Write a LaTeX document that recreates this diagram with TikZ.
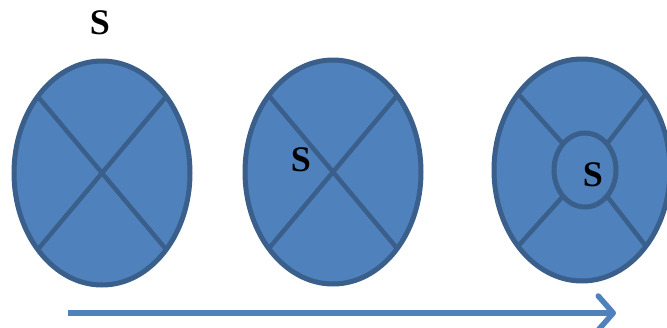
\documentclass[tikz,border=0pt]{standalone}
\usepackage{fontspec}
\setmainfont{Liberation Serif}
\usetikzlibrary{arrows.meta,shapes.geometric}
\definecolor{cellfill}{HTML}{4F81BD}
\definecolor{celledge}{HTML}{3A5F8B}

\begin{document}
\begin{tikzpicture}[x=1pt, y=-1pt,
    cell/.style={draw=celledge, fill=cellfill, ellipse, line width=5pt, inner sep=0pt, outer sep=0pt, minimum width=176pt, minimum height=224pt},
    core/.style={draw=celledge, fill=cellfill, ellipse, line width=5pt, inner sep=0pt, outer sep=0pt, minimum width=62pt, minimum height=74pt},
    split/.style={celledge, line width=4.5pt},
    lbl/.style={font=\fontsize{36}{36}\selectfont\bfseries, inner sep=0pt},
    flow/.style={-{Straight Barb[length=15pt,width=34pt,round]}, line width=5.5pt, cellfill}
]
\useasboundingbox (0,0) rectangle (667,327);
\clip (0,0) rectangle (667,327);

\node[cell] (c1) at (102,173) {};
\node[cell] (c2) at (333,172) {};
\node[cell, minimum height=222pt] (c3) at (582,170) {};
\node[core] (k3) at (585,170) {};

\draw[split] (c1.130) -- (c1.310);
\draw[split] (c1.50) -- (c1.230);
\draw[split] (c2.130) -- (c2.310);
\draw[split] (c2.50) -- (c2.230);
\draw[split] (c3.130) -- (k3.130);
\draw[split] (c3.50) -- (k3.50);
\draw[split] (c3.230) -- (k3.230);
\draw[split] (c3.310) -- (k3.310);

\node[lbl] (s1) at (100,23) {S};
\node[lbl] (s2) at (301,160) {S};
\node[lbl] (s3) at (593,175) {S};

\coordinate (start) at (68,313);
\coordinate (stop) at (616,313);
\draw[flow] (start) -- (stop);
\end{tikzpicture}
\end{document}
